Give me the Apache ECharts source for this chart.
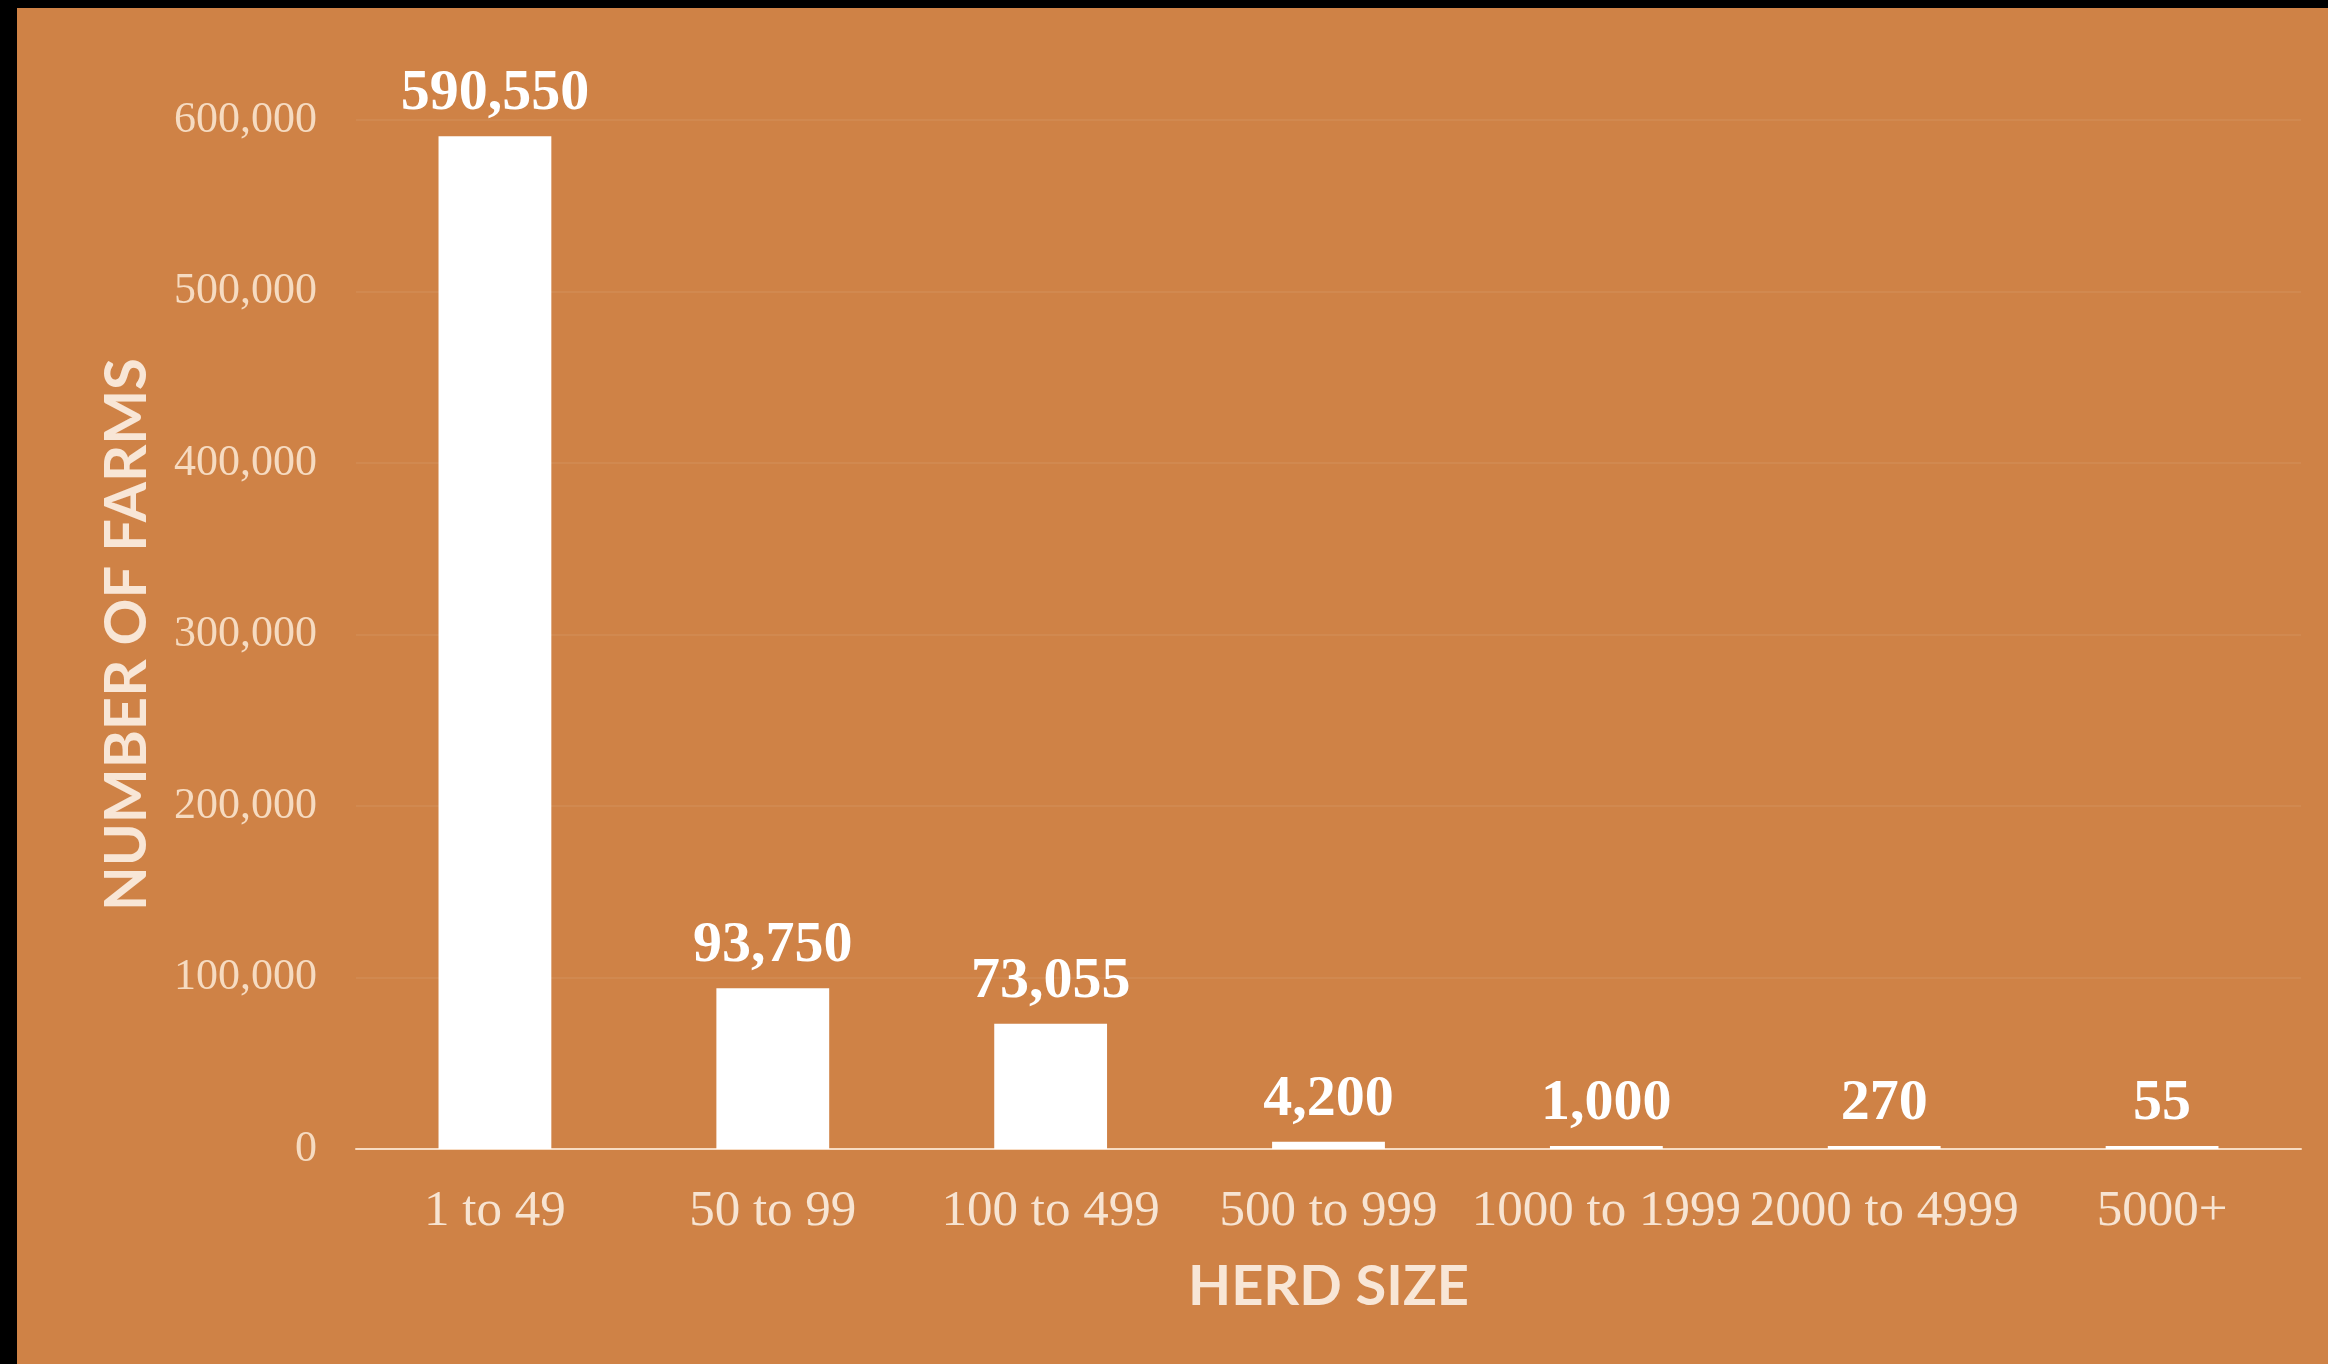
<!DOCTYPE html>
<html>
<head>
<meta charset="utf-8">
<script src="https://cdn.jsdelivr.net/npm/echarts@6/dist/echarts.min.js"></script>
<style>
  html, body { margin: 0; padding: 0; background: #000; width: 2328px; height: 1364px; overflow: hidden; }
  #chart { position: absolute; left: 17px; top: 8px; width: 2311px; height: 1356px; background: #CF8246; }
</style>
</head>
<body>
<div id="chart"></div>
<script>
const categories = ['1 to 49', '50 to 99', '100 to 499', '500 to 999', '1000 to 1999', '2000 to 4999', '5000+'];
const farms = [590550, 93750, 73055, 4200, 1000, 270, 55];
const yTicks = { min: 0, max: 600000, interval: 100000 };
const xAxisTitle = 'HERD SIZE';
const yAxisTitle = 'NUMBER OF FARMS';

const fmt = v => Number(v).toLocaleString('en-US');

const chart = echarts.init(document.getElementById('chart'), null, { renderer: 'canvas' });
chart.setOption({
  backgroundColor: '#CF8246',
  animation: false,
  grid: { left: 339, right: 27, top: 112, bottom: 215, containLabel: false },
  xAxis: {
    type: 'category',
    data: categories,
    name: xAxisTitle,
    nameLocation: 'middle',
    nameGap: 110,
    nameTextStyle: { color: '#F8E6D6', fontFamily: 'Lato', fontWeight: 'bold', fontSize: 56 },
    axisLine: { show: true, lineStyle: { color: 'rgba(255,235,215,0.85)', width: 2 } },
    axisTick: { show: false },
    axisLabel: { color: '#F7E4D2', fontFamily: 'Liberation Serif', fontSize: 51, margin: 37, interval: 0 }
  },
  yAxis: {
    type: 'value',
    min: yTicks.min,
    max: yTicks.max,
    interval: yTicks.interval,
    name: yAxisTitle,
    nameLocation: 'middle',
    nameGap: 200,
    nameTextStyle: { color: '#F8E6D6', fontFamily: 'Lato', fontWeight: 'bold', fontSize: 58 },
    axisLine: { show: false },
    axisTick: { show: false },
    axisLabel: { color: 'rgba(250,228,206,0.9)', fontFamily: 'Liberation Serif', fontSize: 44, margin: 39, formatter: fmt },
    splitLine: { show: true, lineStyle: { color: 'rgba(255,255,255,0.06)', width: 2 } }
  },
  series: [{
    type: 'bar',
    data: farms,
    barWidth: '40.6%',
    barMinHeight: 3,
    itemStyle: { color: '#FFFFFF' },
    label: {
      show: true,
      position: 'top',
      distance: 13,
      color: '#FFFFFF',
      fontFamily: 'Liberation Serif',
      fontWeight: 'bold',
      fontSize: 58,
      formatter: p => fmt(p.value)
    }
  }]
});
</script>
</body>
</html>
